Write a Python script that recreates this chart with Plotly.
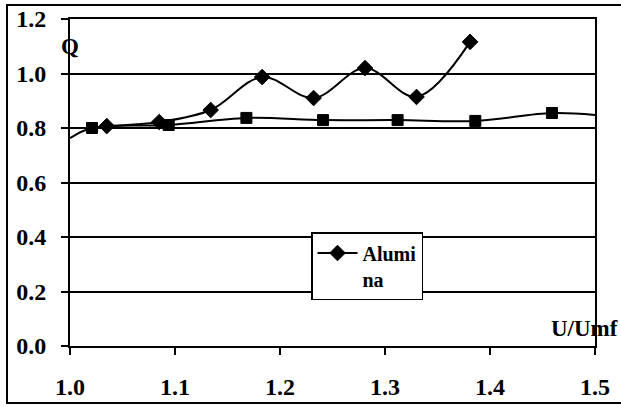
import plotly.graph_objects as go

# Data
alumina_x = [1.035, 1.085, 1.134, 1.183, 1.232, 1.281, 1.330, 1.381]
alumina_y = [0.807, 0.822, 0.866, 0.987, 0.910, 1.020, 0.914, 1.116]

square_x = [1.000, 1.021, 1.094, 1.168, 1.241, 1.312, 1.386, 1.459, 1.500]
square_y = [0.763, 0.800, 0.811, 0.837, 0.829, 0.829, 0.826, 0.855, 0.848]
square_marked = [False, True, True, True, True, True, True, True, False]

x_ticks = [1.0, 1.1, 1.2, 1.3, 1.4, 1.5]
y_ticks = [0.0, 0.2, 0.4, 0.6, 0.8, 1.0, 1.2]

FONT = "Liberation Serif"

fig = go.Figure()

fig.add_trace(go.Scatter(
    x=square_x, y=square_y, mode="lines",
    line=dict(color="black", width=2, shape="spline", smoothing=1.0),
    showlegend=False, hoverinfo="skip",
))
fig.add_trace(go.Scatter(
    x=[x for x, m in zip(square_x, square_marked) if m],
    y=[y for y, m in zip(square_y, square_marked) if m],
    mode="markers",
    marker=dict(symbol="square", color="#000000", size=11, opacity=1,
                line=dict(color="#000000", width=1)),
    showlegend=False, hoverinfo="skip",
))

fig.add_trace(go.Scatter(
    x=alumina_x, y=alumina_y, mode="lines+markers", name="Alumi<br>na",
    line=dict(color="black", width=2, shape="spline", smoothing=1.0),
    marker=dict(symbol="diamond", color="black", size=12,
                line=dict(color="black", width=1)),
))

fig.add_annotation(x=1.0, y=1.1, xref="x", yref="y", text="Q", showarrow=False,
                   xanchor="center", yanchor="middle",
                   font=dict(family=FONT, size=23, color="black", weight="bold"))
fig.add_annotation(x=(584 - 70) / 525, y=0, xref="paper", yref="y", text="U/Umf",
                   showarrow=False, xanchor="center", yanchor="bottom", yshift=3,
                   font=dict(family=FONT, size=23, color="black", weight="bold"))

# Outer frame
fig.add_shape(type="rect", xref="paper", yref="paper",
              x0=(7 - 70) / 525, x1=(627 - 70) / 525,
              y0=(346 - 403) / 327, y1=(346 - 5) / 327,
              line=dict(color="black", width=2), layer="below")

fig.update_layout(
    width=621, height=407,
    margin=dict(l=70, r=26, t=19, b=61, autoexpand=False),
    paper_bgcolor="white", plot_bgcolor="white",
    font=dict(family=FONT, color="black"),
    legend=dict(
        x=(311 - 70) / 525, y=(346 - 232) / 327, xanchor="left", yanchor="top",
        bgcolor="white", bordercolor="black", borderwidth=1.5,
        font=dict(family=FONT, size=20, color="black", weight="bold"),
        valign="top", itemwidth=40,
    ),
    xaxis=dict(
        range=[1.0, 1.5], tickvals=x_ticks, ticktext=[f"{v:.1f}" for v in x_ticks],
        showgrid=False, zeroline=False, automargin=False,
        showline=True, linecolor="black", linewidth=2, mirror=True,
        ticks="outside", ticklen=7, tickwidth=2, tickcolor="black",
        tickfont=dict(family=FONT, size=24, color="black", weight="bold"),
        ticklabelstandoff=11,
    ),
    yaxis=dict(
        range=[0.0, 1.2], tickvals=y_ticks, ticktext=[f"{v:.1f}" for v in y_ticks],
        showgrid=True, gridcolor="black", gridwidth=1.5, zeroline=False, automargin=False,
        showline=True, linecolor="black", linewidth=2, mirror=True,
        ticks="outside", ticklen=7, tickwidth=2, tickcolor="black",
        tickfont=dict(family=FONT, size=24, color="black", weight="bold"),
        ticklabelstandoff=10,
    ),
)

fig.write_html("out.html", config={"displayModeBar": False},
               post_script="document.body.style.margin='0';document.body.style.overflow='hidden';")
